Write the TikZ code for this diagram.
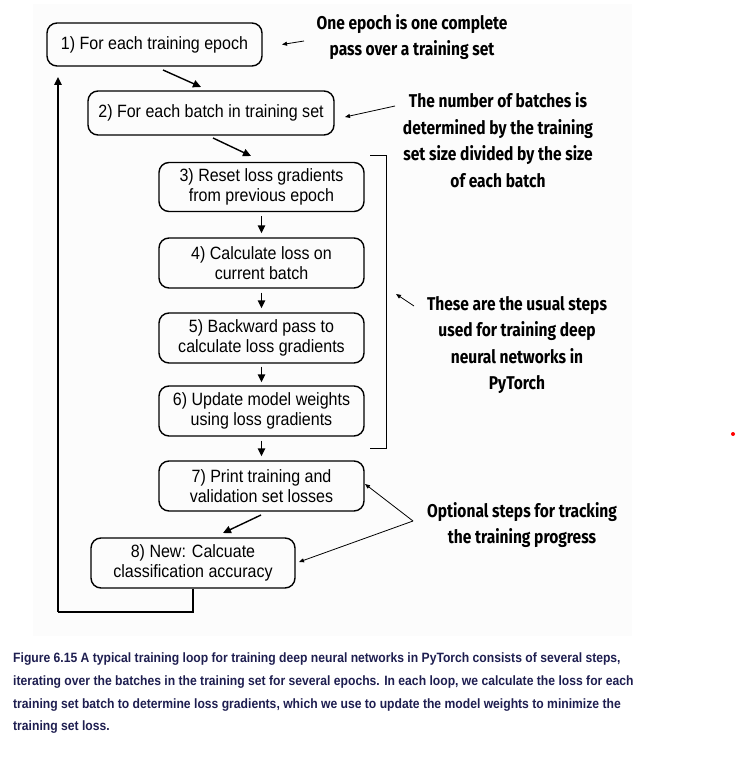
\documentclass[tikz,border=0pt]{standalone}
\usepackage{fontspec}
\setmainfont{Liberation Sans}
\newfontfamily\boxfont[FakeStretch=0.9]{Liberation Sans}
\newfontfamily\notefont[FakeStretch=0.84]{Fira Sans}
\newfontfamily\capfont[FakeStretch=0.9]{Liberation Sans}
\usetikzlibrary{arrows.meta}
\definecolor{bgpanel}{HTML}{FCFCFC}
\definecolor{capnavy}{HTML}{1E1E50}
\tikzset{
  stepbox/.style={draw, line width=1.4pt, rounded corners=10pt, align=center,
    font=\boxfont\fontsize{17.8}{19.5}\selectfont, inner sep=0pt},
  flow/.style={line width=1.4pt, -{Triangle[length=8pt,width=7.5pt]}},
  thin/.style={line width=0.8pt, -{Triangle[length=5pt,width=4pt]}},
  note/.style={align=center, font=\notefont\bfseries\fontsize{18.5}{26.5}\selectfont},
}
\begin{document}
\begin{tikzpicture}[x=1pt,y=-1pt]
\useasboundingbox (0,0) rectangle (737,770);
\fill[bgpanel] (33,4) rectangle (632,636);

\node[stepbox, minimum width=215pt, minimum height=43pt] (b1) at (154.5,44.5) {1) For each training epoch};
\node[stepbox, minimum width=246pt, minimum height=44pt] (b2) at (211,113) {2) For each batch in training set};
\node[stepbox, minimum width=205pt, minimum height=49pt] (b3) at (261.5,187) {3) Reset loss gradients\\from previous epoch};
\node[stepbox, minimum width=205pt, minimum height=50pt] (b4) at (261.5,263) {4) Calculate loss on\\current batch};
\node[stepbox, minimum width=205pt, minimum height=50pt] (b5) at (261.5,338) {5) Backward pass to\\calculate loss gradients};
\node[stepbox, minimum width=205pt, minimum height=50pt] (b6) at (261.5,411) {6) Update model weights\\using loss gradients};
\node[stepbox, minimum width=205pt, minimum height=50pt] (b7) at (261.5,486) {7) Print training and\\validation set losses};
\node[stepbox, minimum width=204pt, minimum height=50pt] (b8) at (193,563) {8) New: Calcuate\\classification accuracy};

% flow arrows
\coordinate (a1s) at (163,70); \coordinate (a1e) at (201,87);
\draw[flow] (a1s) -- (a1e);
\coordinate (a2s) at (213,138); \coordinate (a2e) at (251,156);
\draw[flow] (a2s) -- (a2e);
\draw[flow] ([yshift=-4pt]b3.south) -- ([yshift=4pt]b4.north);
\draw[flow] ([yshift=-4pt]b4.south) -- ([yshift=4pt]b5.north);
\draw[flow] ([yshift=-3pt]b5.south) -- ([yshift=3pt]b6.north);
\draw[flow] ([yshift=-4pt]b6.south) -- ([yshift=4pt]b7.north);
\coordinate (a7s) at (261,515); \coordinate (a7e) at (223,533);
\draw[flow] (a7s) -- (a7e);

% loop back
\coordinate (lp1) at (193,612);
\coordinate (lp2) at (58,612);
\coordinate (lp3) at (58,77);
\draw[line width=1.4pt] (b8.south) -- (lp1) -- (lp2);
\draw[flow] (lp2) -- (lp3);

% bracket
\coordinate (br1) at (370,156); \coordinate (br2) at (386,156);
\coordinate (br3) at (386,448); \coordinate (br4) at (370,448);
\draw[line width=1pt] (br1) -- (br2) -- (br3) -- (br4);

% notes
\node[note] (n1) at (412,37) {One epoch is one complete\\pass over a training set};
\node[note] (n2) at (498,140) {The number of batches is\\determined by the training\\set size divided by the size\\of each batch};
\node[note] (n3) at (517,345) {These are the usual steps\\used for training deep\\neural networks in\\PyTorch};
\node[note] (n4) at (522,525) {Optional steps for tracking\\the training progress};

% note arrows
\coordinate (t1s) at (304,41); \coordinate (t1e) at (282,44.5);
\draw[thin] (t1s) -- (t1e);
\coordinate (t2s) at (395,106); \coordinate (t2e) at (345,117);
\draw[thin] (t2s) -- (t2e);
\coordinate (t3s) at (414,306); \coordinate (t3e) at (396,294);
\draw[thin] (t3s) -- (t3e);
\coordinate (t4s) at (413,521); \coordinate (t4e) at (365,484); \coordinate (t5e) at (299,562);
\draw[thin] (t4s) -- (t4e);
\draw[thin] (t4s) -- (t5e);

% red dot
\fill[red] (733,434) circle (2pt);

% caption
\node[anchor=north west, align=left, text=capnavy, inner sep=0pt,
  font=\capfont\bfseries\fontsize{13.5}{22.6}\selectfont] (cap) at (13,653)
{Figure 6.15 A typical training loop for training deep neural networks in PyTorch consists of several steps,\\
iterating over the batches in the training set for several epochs. In each loop, we calculate the loss for each\\
training set batch to determine loss gradients, which we use to update the model weights to minimize the\\
training set loss.};
\end{tikzpicture}
\end{document}
